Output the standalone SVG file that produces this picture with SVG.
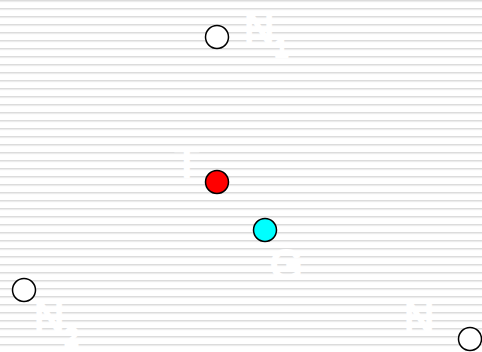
<svg xmlns="http://www.w3.org/2000/svg" width="482" height="352" viewBox="0 0 482 352">
<defs>
<pattern id="bg" x="0" y="0" width="482" height="8" patternUnits="userSpaceOnUse">
<rect x="0" y="0" width="482" height="1" fill="#dcdcdc"/>
<rect x="0" y="1" width="482" height="1.2" fill="#ececec"/>
</pattern>
<style>
.node{stroke:#000;stroke-width:1.5}
.lbl{font-family:"Liberation Sans",Arial,sans-serif;font-size:42px;fill:#fff;stroke:#fff;stroke-width:2;paint-order:stroke;stroke-linejoin:round}
.sub{font-size:26px}
</style>
</defs>
<rect width="482" height="352" fill="#fff"/>
<rect width="482" height="352" fill="url(#bg)"/>
<g id="connectors"></g>
<g id="N1"><circle class="node" cx="217" cy="37" r="11.5" fill="#fff"/><text class="lbl" x="244" y="42">N<tspan class="sub" dy="15">1</tspan></text></g>
<g id="T"><circle class="node" cx="217" cy="182" r="11.5" fill="#f00"/><text class="lbl" x="174" y="177">T</text></g>
<g id="G"><circle class="node" cx="265" cy="230" r="11.5" fill="#0ff"/><text class="lbl" x="270" y="279">G</text></g>
<g id="N2"><circle class="node" cx="24" cy="290" r="11.5" fill="#fff"/><text class="lbl" x="34" y="331">N<tspan class="sub" dy="15">2</tspan></text></g>
<g id="N3"><circle class="node" cx="470" cy="339" r="11.5" fill="#fff"/><text class="lbl" x="404" y="332">N</text></g>
</svg>
